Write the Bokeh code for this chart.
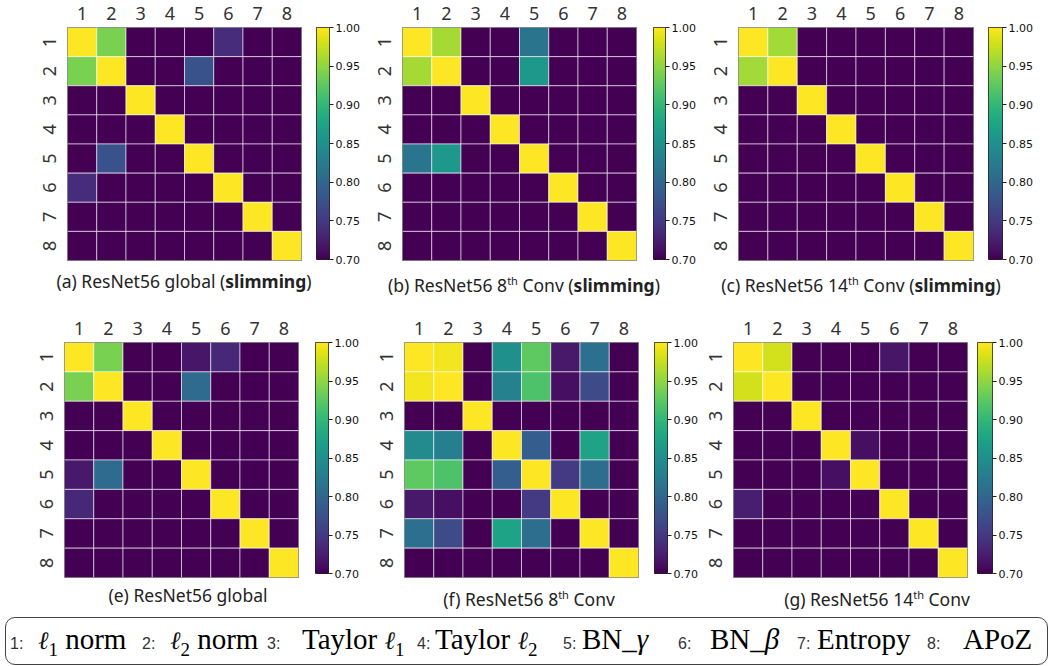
import numpy as np
from bokeh.plotting import figure
from bokeh.layouts import row, column
from bokeh.models import (ColumnDataSource, LinearColorMapper, FixedTicker,
                          PrintfTickFormatter, Range1d, FactorRange, Div)
from bokeh.palettes import Viridis256
from bokeh.transform import transform
from bokeh.embed import file_html
from bokeh.resources import INLINE

# ---------------- data ----------------
methods = ["1", "2", "3", "4", "5", "6", "7", "8"]
cbar_ticks = [0.70, 0.75, 0.80, 0.85, 0.90, 0.95, 1.00]
vmin, vmax = 0.70, 1.00
L = 0.70

sim_a = [
    [1.00, 0.94, L, L, L, 0.738, L, L],
    [0.94, 1.00, L, L, 0.775, L, L, L],
    [L, L, 1.00, L, L, L, L, L],
    [L, L, L, 1.00, L, L, L, L],
    [L, 0.775, L, L, 1.00, L, L, L],
    [0.738, L, L, L, L, 1.00, L, L],
    [L, L, L, L, L, L, 1.00, L],
    [L, L, L, L, L, L, L, 1.00],
]
sim_b = [
    [1.00, 0.96, L, L, 0.815, L, L, L],
    [0.96, 1.00, L, L, 0.86, L, L, L],
    [L, L, 1.00, L, L, L, L, L],
    [L, L, L, 1.00, L, L, L, L],
    [0.815, 0.86, L, L, 1.00, L, L, L],
    [L, L, L, L, L, 1.00, L, L],
    [L, L, L, L, L, L, 1.00, L],
    [L, L, L, L, L, L, L, 1.00],
]
sim_c = [
    [1.00, 0.958, L, L, L, L, L, L],
    [0.958, 1.00, L, L, L, L, L, L],
    [L, L, 1.00, L, L, L, L, L],
    [L, L, L, 1.00, L, L, L, L],
    [L, L, L, L, 1.00, L, L, L],
    [L, L, L, L, L, 1.00, L, L],
    [L, L, L, L, L, L, 1.00, L],
    [L, L, L, L, L, L, L, 1.00],
]
sim_e = [
    [1.00, 0.94, L, L, 0.718, 0.735, L, L],
    [0.94, 1.00, L, L, 0.805, L, L, L],
    [L, L, 1.00, L, L, L, L, L],
    [L, L, L, 1.00, L, L, L, L],
    [0.72, 0.805, L, L, 1.00, L, L, L],
    [0.735, L, L, L, L, 1.00, L, L],
    [L, L, L, L, L, L, 1.00, L],
    [L, L, L, L, L, L, L, 1.00],
]
sim_f = [
    [1.00, 0.995, L, 0.85, 0.925, 0.72, 0.81, L],
    [0.995, 1.00, L, 0.832, 0.916, 0.712, 0.769, L],
    [L, L, 1.00, L, L, L, L, L],
    [0.845, 0.829, L, 1.00, 0.79, L, 0.874, L],
    [0.925, 0.916, L, 0.79, 1.00, 0.751, 0.808, L],
    [0.72, 0.712, L, L, 0.751, 1.00, L, L],
    [0.81, 0.769, L, 0.874, 0.808, L, 1.00, L],
    [L, L, L, L, L, L, L, 1.00],
]
sim_g = [
    [1.00, 0.979, L, L, L, 0.718, L, L],
    [0.979, 1.00, L, L, L, L, L, L],
    [L, L, 1.00, L, L, L, L, L],
    [L, L, L, 1.00, 0.712, L, L, L],
    [L, L, L, 0.712, 1.00, L, L, L],
    [0.725, L, L, L, L, 1.00, L, L],
    [L, L, L, L, L, L, 1.00, L],
    [L, L, L, L, L, L, L, 1.00],
]

SUP = '<sup style="font-size:11px;">th</sup>'
captions_top = [
    ("(a) ResNet56 global (<b>slimming</b>)", 184),
    ("(b) ResNet56 8" + SUP + " Conv (<b>slimming</b>)", 524),
    ("(c) ResNet56 14" + SUP + " Conv (<b>slimming</b>)", 861),
]
captions_bot = [
    ("(e) ResNet56 global", 188),
    ("(f) ResNet56 8" + SUP + " Conv", 529),
    ("(g) ResNet56 14" + SUP + " Conv", 877),
]

mapper = LinearColorMapper(palette=Viridis256, low=vmin, high=vmax)
cbar_levels = np.linspace(vmin, vmax, 256).reshape(256, 1)

LABEL_FONT = "Noto Sans"
BOT = 8


def heatmap(mat, left, right, top, fw, fh):
    xs, ys, vs = [], [], []
    for i, r in enumerate(mat):
        for j, v in enumerate(r):
            xs.append(methods[j])
            ys.append(methods[i])
            vs.append(v)
    src = ColumnDataSource(dict(x=xs, y=ys, v=vs))
    p = figure(x_range=FactorRange(factors=methods),
               y_range=FactorRange(factors=list(reversed(methods))),
               frame_width=fw, frame_height=fh,
               x_axis_location="above", y_axis_location="left",
               toolbar_location=None, output_backend="svg",
               min_border=0)
    p.min_border_left = left
    p.min_border_right = right
    p.min_border_top = top
    p.min_border_bottom = BOT
    p.rect(x="x", y="y", width=1, height=1, source=src,
           fill_color=transform("v", mapper),
           line_color="white", line_alpha=0.55, line_width=1)
    p.grid.visible = False
    p.outline_line_color = "#555555"
    p.outline_line_width = 1
    for ax in (p.xaxis[0], p.yaxis[0]):
        ax.axis_line_color = None
        ax.major_tick_line_color = None
        ax.minor_tick_line_color = None
        ax.major_label_text_font = LABEL_FONT
        ax.major_label_text_font_size = "18px"
        ax.major_label_text_color = "#333333"
    p.xaxis.major_label_standoff = 2
    p.yaxis.major_label_standoff = 6
    p.yaxis.major_label_orientation = "vertical"
    return p


def colorbar(top, fw, fh, right, total_h):
    p = figure(x_range=Range1d(0, 1), y_range=Range1d(vmin, vmax),
               frame_width=fw, frame_height=fh,
               x_axis_location=None, y_axis_location="right",
               toolbar_location=None, output_backend="svg", min_border=0)
    p.min_border_left = 0
    p.min_border_right = right
    p.min_border_top = top
    p.min_border_bottom = total_h - top - fh
    p.image(image=[cbar_levels], x=0, y=vmin, dw=1, dh=vmax - vmin,
            color_mapper=mapper)
    p.grid.visible = False
    p.outline_line_color = "#222222"
    p.outline_line_width = 1
    ax = p.yaxis[0]
    ax.ticker = FixedTicker(ticks=cbar_ticks)
    ax.formatter = PrintfTickFormatter(format="%.2f")
    ax.axis_line_color = None
    ax.major_tick_in = 0
    ax.major_tick_out = 4
    ax.major_tick_line_color = "#222222"
    ax.minor_tick_line_color = None
    ax.major_label_standoff = 2
    ax.major_label_text_font = "DejaVu Sans"
    ax.major_label_text_font_size = "11px"
    ax.major_label_text_color = "#111111"
    return p


# ---------------- row 1 ----------------
H1 = 27 + 233 + BOT
fa = heatmap(sim_a, 67, 15, 27, 234, 233)
ca = colorbar(27, 13, 232, 33, H1)
fb = heatmap(sim_b, 40, 17, 27, 234, 233)
cb = colorbar(27, 12, 232, 35, H1)
fc = heatmap(sim_c, 38, 15, 27, 235, 233)
cc = colorbar(27, 14, 232, 51, H1)
row1 = row(fa, ca, fb, cb, fc, cc, spacing=0)

# ---------------- row 2 ----------------
H2 = 34 + 235 + BOT
fe = heatmap(sim_e, 64, 17, 34, 234, 235)
ce = colorbar(37, 13, 231, 34, H2)
ff = heatmap(sim_f, 42, 16, 34, 234, 235)
cf = colorbar(37, 13, 231, 33, H2)
fg = heatmap(sim_g, 33, 10, 34, 234, 235)
cg = colorbar(37, 15, 231, 61, H2)
row2 = row(fe, ce, ff, cf, fg, cg, spacing=0)


def caption_div(items, height, top):
    parts = []
    for txt, cx in items:
        parts.append(
            f'<div style="position:absolute;left:{cx}px;top:{top}px;'
            f'transform:translateX(-50%);white-space:nowrap;'
            f'font-family:\'Noto Sans\';font-size:17.5px;color:#222;line-height:20px;">'
            f'{txt}</div>')
    html = (f'<div style="position:relative;width:1053px;height:{height}px;">'
            + "".join(parts) + '</div>')
    return Div(text=html, width=1053, height=height,
               styles={"margin": "0", "padding": "0"})


cap1 = caption_div(captions_top, 305 - H1, 11 - BOT)
cap2 = caption_div(captions_bot, 612 - 305 - H2, 11 - BOT)

# ---------------- legend ----------------
legend_nums = ["1:", "2:", "3:", "4:", "5:", "6:", "7:", "8:"]
SUB = '<span style="font-size:19px;position:relative;top:7px;">{}</span>'
ELL = ('<span style="font-family:\'DejaVu Serif\';font-style:italic;'
       'font-size:25px;color:#111;">&#8467;</span>')
legend_names = [
    ELL + SUB.format("1") + " norm",
    ELL + SUB.format("2") + " norm",
    "Taylor " + ELL + SUB.format("1"),
    "Taylor " + ELL + SUB.format("2"),
    "BN_<i>&gamma;</i>",
    "BN_<i>&beta;</i>",
    "Entropy",
    "APoZ",
]
num_x = [10, 142, 267, 417, 563, 678, 797, 927]
name_x = [38, 170, 302, 435, 582, 710, 817, 963]
starts = []
for a, b in zip(num_x, name_x):
    starts += [a, b]
starts.append(1045)
spans = []
k = 0
for n, nm in zip(legend_nums, legend_names):
    w1 = starts[k + 1] - starts[k]
    w2 = starts[k + 2] - starts[k + 1]
    spans.append(f'<span style="display:inline-block;width:{w1}px;'
                 f'font-family:\'Liberation Sans\';font-size:16px;color:#333;">{n}</span>')
    spans.append(f'<span style="display:inline-block;width:{w2}px;'
                 f'font-family:\'Liberation Serif\';font-size:29px;color:#000;">{nm}</span>')
    k += 2
legend_html = (
    '<div style="position:relative;width:1053px;height:54px;">'
    '<div style="position:absolute;left:5px;top:5px;width:1043px;height:48px;'
    'border:1px solid #444;border-radius:10px;box-sizing:border-box;"></div>'
    '<div style="position:absolute;left:10px;top:8px;white-space:nowrap;line-height:38px;">'
    + "".join(spans) + '</div></div>')
legend = Div(text=legend_html, width=1053, height=54,
             styles={"margin": "0", "padding": "0"})

layout = column(row1, cap1, row2, cap2, legend, spacing=0)

with open("out.html", "w") as f:
    f.write(file_html(layout, INLINE))
